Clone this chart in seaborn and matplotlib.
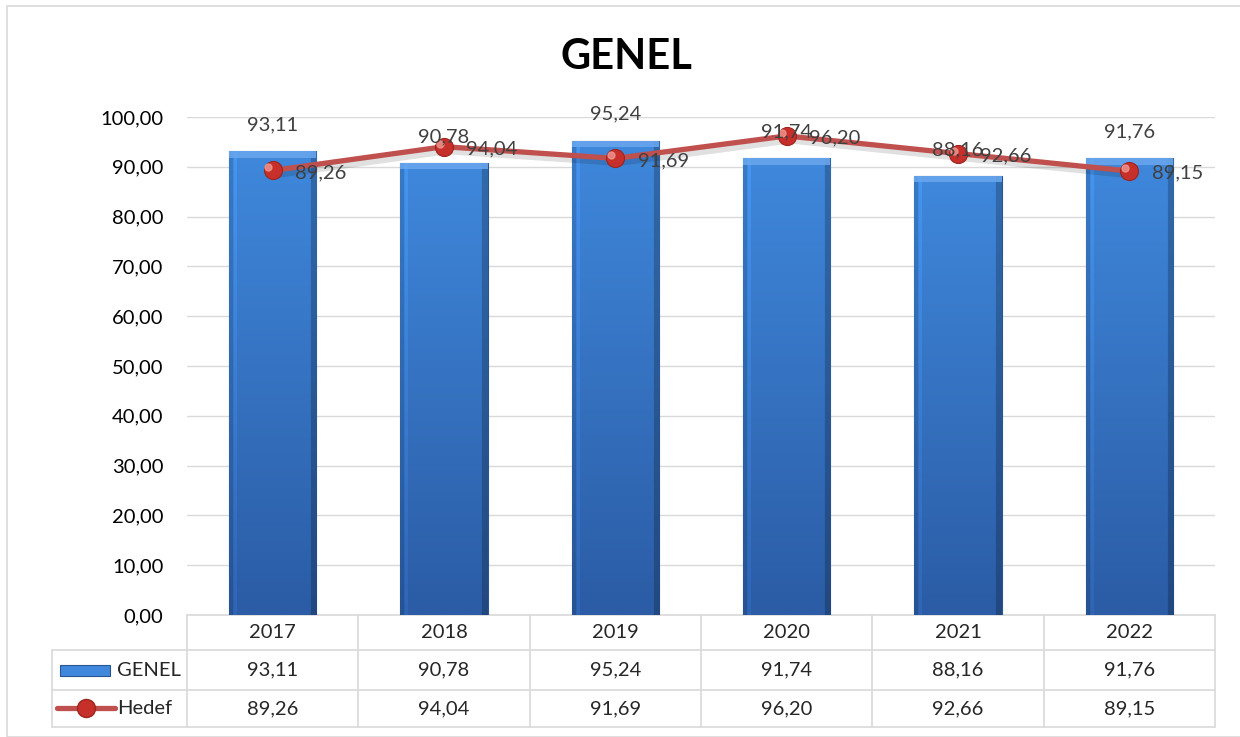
import numpy as np
import matplotlib
matplotlib.use("Agg")
import matplotlib.pyplot as plt
import seaborn as sns
from matplotlib.colors import to_rgb
from matplotlib.patches import Rectangle
from matplotlib.lines import Line2D
from matplotlib.ticker import FuncFormatter, MultipleLocator

years = ["2017", "2018", "2019", "2020", "2021", "2022"]
genel = [93.11, 90.78, 95.24, 91.74, 88.16, 91.76]
hedef = [89.26, 94.04, 91.69, 96.20, 92.66, 89.15]
series_names = ["GENEL", "Hedef"]


def tr(v):
    return f"{v:.2f}".replace(".", ",")


sns.set_style("white")
plt.rcParams['font.family'] = ['Lato', 'DejaVu Sans']

fig = plt.figure(figsize=(12.4, 7.37), dpi=100)
ax = fig.add_axes([187 / 1240, 1 - 615 / 737, (1215 - 187) / 1240, 498 / 737])

bar_blue = "#3573c4"
line_red = "#c0504d"
grid_c = "#d9d9d9"
text_c = "#404040"
fs = 14.5

sns.barplot(x=years, y=genel, color=bar_blue, width=0.51, ax=ax,
            edgecolor="#2a5590", linewidth=0.8, zorder=3)

# bevelled gradient fill on the bars
top_c = np.array(to_rgb("#3f88dc"))
bot_c = np.array(to_rgb("#2b5ca5"))
ny, nx = 200, 100
t = np.linspace(0, 1, ny)[:, None, None]
img = top_c * (1 - t) + bot_c * t
img = np.repeat(img, nx, axis=1)
u = np.linspace(0, 1, nx)
edge = np.ones(nx)
edge[u < 0.05] = 0.9
edge[(u >= 0.05) & (u < 0.09)] = 1.1
edge[u > 0.93] = 0.78
img = np.clip(img * edge[None, :, None], 0, 1)
for p in ax.patches:
    x0, y0 = p.get_x(), p.get_y()
    w, h = p.get_width(), p.get_height()
    im = ax.imshow(img, aspect="auto", extent=[x0, x0 + w, y0, y0 + h],
                   origin="upper", zorder=3.1)
    im.set_clip_path(p)
    ax.add_patch(Rectangle((x0, y0 + h - 1.3), w, 1.3,
                           facecolor="#6aa8ee", edgecolor="none", alpha=0.85, zorder=3.2))

xs = np.arange(len(years))
# soft shadow under the line
ax.plot(xs + 0.02, np.array(hedef) - 0.9, color="#000000", alpha=0.12, lw=4.5,
        zorder=3.9, solid_capstyle="round")
sns.lineplot(x=xs, y=hedef, color=line_red, lw=3.8, ax=ax, zorder=4,
             marker="o", markersize=13, markerfacecolor="#c62f2a",
             markeredgecolor="#9c2520", markeredgewidth=0.8)
ax.plot(xs - 0.025, np.array(hedef) + 0.6, "o", ms=5, color="#f09890", alpha=0.8, zorder=5)

ax.set_xlim(-0.5, len(years) - 0.5)
ax.set_ylim(0, 100)
ax.yaxis.set_major_locator(MultipleLocator(10))
ax.yaxis.set_major_formatter(FuncFormatter(lambda v, _: tr(v)))
ax.tick_params(axis="y", labelsize=fs, length=0, pad=17, labelcolor="#000000")
ax.set_xticks([])
ax.set_xlabel("")
ax.set_ylabel("")
ax.grid(axis="y", color=grid_c, lw=1, zorder=0)
for s in ax.spines.values():
    s.set_visible(False)

# data labels
for i, v in enumerate(genel):
    ax.annotate(tr(v), (i, v), xytext=(0, 19), textcoords="offset points",
                ha="center", va="center", fontsize=fs, color=text_c, zorder=6)
for i, v in enumerate(hedef):
    ax.annotate(tr(v), (i, v), xytext=(16, -1.5), textcoords="offset points",
                ha="left", va="center", fontsize=fs, color=text_c, zorder=6)

fig.text(626 / 1240, 1 - 57 / 737, "GENEL", fontsize=30, fontweight="bold",
         ha="center", va="center", color="#000000")

# data table under the axis
tb = ax.get_xaxis_transform()
r0, r1, r2, r3 = 0.0, -35 / 498, -75 / 498, -112 / 498
left_col = -0.5 - (187 - 52) / (1028 / 6)
kw = dict(color=grid_c, lw=1.2, transform=tb, clip_on=False)
ax.add_line(Line2D([-0.5, 5.5], [r0, r0], **kw))
for yy in (r1, r2, r3):
    ax.add_line(Line2D([left_col, 5.5], [yy, yy], **kw))
for xx in np.arange(-0.5, 6, 1.0):
    ax.add_line(Line2D([xx, xx], [r0, r3], **kw))
ax.add_line(Line2D([left_col, left_col], [r1, r3], **kw))

for i, yr in enumerate(years):
    ax.text(i, (r0 + r1) / 2, yr, transform=tb, ha="center", va="center", fontsize=fs)
    ax.text(i, (r1 + r2) / 2, tr(genel[i]), transform=tb, ha="center", va="center", fontsize=fs)
    ax.text(i, (r2 + r3) / 2, tr(hedef[i]), transform=tb, ha="center", va="center", fontsize=fs)

# legend keys inside the table
fig.patches.append(Rectangle((60 / 1240, 1 - 676 / 737), 50 / 1240, 11 / 737,
                             facecolor="#3f88dc", edgecolor="#2a5590", lw=0.8,
                             transform=fig.transFigure))
fig.lines.append(Line2D([57 / 1240, 115 / 1240], [1 - 708 / 737] * 2, color=line_red,
                        lw=3.8, transform=fig.transFigure, solid_capstyle="round"))
fig.lines.append(Line2D([86 / 1240], [1 - 708 / 737], marker="o", ms=13,
                        markerfacecolor="#c62f2a", markeredgecolor="#9c2520",
                        transform=fig.transFigure))
fig.text(117 / 1240, 1 - 670 / 737, series_names[0], ha="left", va="center", fontsize=fs)
fig.text(117 / 1240, 1 - 708 / 737, series_names[1], ha="left", va="center", fontsize=fs)

# outer frame
fig.patches.append(Rectangle((7 / 1240, 0.0), 1, 1 - 6 / 737, facecolor="none",
                             edgecolor=grid_c, lw=1.2, transform=fig.transFigure))

fig.savefig("out.png", dpi=100)
